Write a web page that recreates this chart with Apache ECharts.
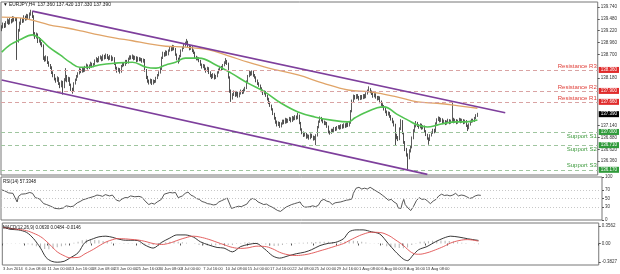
<!DOCTYPE html>
<html><head><meta charset="utf-8">
<script src="https://cdn.jsdelivr.net/npm/echarts@6/dist/echarts.min.js"></script>
<style>html,body{margin:0;padding:0;background:#fff}#c{width:620px;height:274px}</style>
</head><body><div id="c"></div>
<script>
const symbolName = 'EURJPY,H4';
const firstBarUTC = [2014, 5, 3, 16];
const timeLabelEvery = 16;
const futureSlots = 86;

// [open, close, low, high]
const candles = [
[139.25,139.30,139.21,139.34],[139.30,139.36,139.27,139.40],[139.36,139.31,139.28,139.39],[139.31,139.40,139.29,139.43],[139.40,139.44,139.37,139.49],
[139.44,139.38,139.35,139.47],[139.38,139.46,139.36,139.50],[139.46,139.41,139.38,139.48],[139.41,139.50,139.40,139.54],[139.50,139.45,139.42,139.53],
[139.45,139.48,139.43,139.52],[139.48,139.00,138.58,139.50],[139.00,139.22,138.96,139.26],[139.22,139.38,139.20,139.42],[139.38,139.47,139.35,139.50],
[139.47,139.42,139.39,139.50],[139.42,139.52,139.40,139.56],[139.52,139.47,139.44,139.55],[139.47,139.55,139.45,139.59],[139.55,139.50,139.47,139.58],
[139.50,139.58,139.48,139.62],[139.58,139.62,139.55,139.68],[139.62,139.54,139.50,139.65],[139.54,139.15,139.10,139.56],[139.15,139.08,139.04,139.19],
[139.08,139.14,139.05,139.18],[139.14,138.98,138.95,139.16],[138.98,139.04,138.96,139.08],[139.04,138.94,138.90,139.06],[138.94,138.90,138.86,138.97],
[138.90,138.62,138.58,138.92],[138.62,138.58,138.54,138.66],[138.58,138.64,138.55,138.68],[138.64,138.52,138.49,138.66],[138.52,138.46,138.43,138.55],
[138.46,138.42,138.38,138.49],[138.42,138.30,138.27,138.44],[138.30,138.24,138.20,138.33],[138.24,138.16,138.13,138.27],[138.16,138.12,138.08,138.19],
[138.12,138.18,138.10,138.22],[138.18,138.06,138.03,138.20],[138.06,138.00,137.96,138.09],[138.00,138.10,137.98,138.13],[138.10,137.98,137.82,138.12],
[137.98,138.14,137.96,138.18],[138.14,138.22,138.11,138.40],[138.22,138.12,138.09,138.25],[138.12,138.18,138.10,138.21],[138.18,138.04,138.01,138.20],
[138.04,137.94,137.90,138.06],[137.94,137.90,137.84,137.97],[137.90,138.06,137.88,138.09],[138.06,138.14,138.04,138.17],[138.14,138.22,138.12,138.25],
[138.22,138.28,138.19,138.31],[138.28,138.36,138.26,138.40],[138.36,138.32,138.29,138.39],[138.32,138.38,138.30,138.41],[138.38,138.34,138.31,138.40],
[138.34,138.42,138.32,138.45],[138.42,138.46,138.39,138.50],[138.46,138.40,138.37,138.48],[138.40,138.45,138.38,138.48],[138.45,138.50,138.43,138.54],
[138.50,138.44,138.41,138.52],[138.44,138.48,138.42,138.51],[138.48,138.56,138.46,138.59],[138.56,138.60,138.53,138.64],[138.60,138.55,138.52,138.62],
[138.55,138.62,138.53,138.66],[138.62,138.64,138.59,138.68],[138.64,138.58,138.55,138.66],[138.58,138.66,138.56,138.70],[138.66,138.62,138.59,138.69],
[138.62,138.68,138.60,138.72],[138.68,138.63,138.60,138.71],[138.63,138.60,138.57,138.66],[138.60,138.66,138.58,138.69],[138.66,138.58,138.55,138.68],
[138.58,138.62,138.56,138.65],[138.62,138.50,138.47,138.64],[138.50,138.40,138.37,138.52],[138.40,138.34,138.30,138.43],[138.34,138.38,138.32,138.41],
[138.38,138.32,138.28,138.40],[138.32,138.44,138.30,138.47],[138.44,138.50,138.42,138.53],[138.50,138.47,138.44,138.53],[138.47,138.55,138.45,138.58],
[138.55,138.52,138.49,138.58],[138.52,138.60,138.50,138.63],[138.60,138.65,138.58,138.68],[138.65,138.62,138.59,138.68],[138.62,138.66,138.60,138.70],
[138.66,138.60,138.57,138.68],[138.60,138.64,138.58,138.67],[138.64,138.56,138.53,138.66],[138.56,138.62,138.54,138.65],[138.62,138.58,138.55,138.64],
[138.58,138.60,138.55,138.63],[138.60,138.55,138.52,138.62],[138.55,138.58,138.52,138.61],[138.58,138.35,138.32,138.60],[138.35,138.20,138.16,138.38],
[138.20,138.12,138.08,138.23],[138.12,138.08,138.04,138.15],[138.08,138.14,138.06,138.17],[138.14,138.06,138.03,138.16],[138.06,138.12,138.04,138.15],
[138.12,138.10,138.07,138.14],[138.10,138.18,138.08,138.21],[138.18,138.24,138.16,138.27],[138.24,138.30,138.22,138.33],[138.30,138.38,138.28,138.41],
[138.38,138.62,138.36,138.65],[138.62,138.72,138.60,138.76],[138.72,138.68,138.65,138.75],[138.68,138.76,138.66,138.79],[138.76,138.70,138.67,138.78],
[138.70,138.78,138.68,138.81],[138.78,138.84,138.76,138.87],[138.84,138.80,138.77,138.86],[138.80,138.88,138.78,138.91],[138.88,138.82,138.79,138.90],
[138.82,138.70,138.67,138.84],[138.70,138.60,138.57,138.72],[138.60,138.56,138.50,138.63],[138.56,138.66,138.54,138.69],[138.66,138.78,138.64,138.81],
[138.78,138.84,138.76,138.87],[138.84,138.90,138.82,138.93],[138.90,138.94,138.87,138.98],[138.94,138.98,138.91,139.04],[138.98,138.88,138.85,139.00],
[138.88,138.82,138.79,138.91],[138.82,138.86,138.80,138.89],[138.86,138.78,138.75,138.88],[138.78,138.74,138.71,138.81],[138.74,138.64,138.61,138.76],
[138.64,138.60,138.57,138.67],[138.60,138.62,138.57,138.65],[138.62,138.56,138.53,138.64],[138.56,138.48,138.45,138.58],[138.48,138.42,138.39,138.50],
[138.42,138.46,138.40,138.49],[138.46,138.38,138.35,138.48],[138.38,138.34,138.30,138.41],[138.34,138.40,138.32,138.43],[138.40,138.30,138.27,138.42],
[138.30,138.24,138.20,138.33],[138.24,138.20,138.16,138.27],[138.20,138.26,138.18,138.29],[138.26,138.18,138.15,138.28],[138.18,138.22,138.16,138.25],
[138.22,138.30,138.20,138.33],[138.30,138.36,138.28,138.39],[138.36,138.42,138.34,138.45],[138.42,138.38,138.35,138.45],[138.38,138.46,138.36,138.49],
[138.46,138.52,138.44,138.55],[138.52,138.56,138.49,138.62],[138.56,138.50,138.47,138.58],[138.50,138.20,138.17,138.52],[138.20,137.90,137.86,138.22],
[137.90,137.74,137.66,137.93],[137.74,137.82,137.71,137.85],[137.82,137.88,137.79,137.91],[137.88,137.80,137.77,137.90],[137.80,137.86,137.78,137.89],
[137.86,137.78,137.75,137.88],[137.78,137.84,137.76,137.87],[137.84,137.90,137.82,137.93],[137.90,137.86,137.83,137.92],[137.86,137.92,137.84,137.95],
[137.92,137.96,137.89,137.99],[137.96,138.10,137.94,138.13],[138.10,138.22,138.08,138.25],[138.22,138.30,138.20,138.34],[138.30,138.26,138.23,138.33],
[138.26,138.32,138.24,138.35],[138.32,138.24,138.21,138.34],[138.24,138.20,138.17,138.27],[138.20,138.12,138.09,138.22],[138.12,138.06,138.03,138.15],
[138.06,138.02,137.99,138.09],[138.02,137.96,137.93,138.04],[137.96,137.90,137.87,137.98],[137.90,137.84,137.81,137.93],[137.84,137.88,137.82,137.91],
[137.88,137.80,137.77,137.90],[137.80,137.72,137.69,137.82],[137.72,137.64,137.61,137.75],[137.64,137.58,137.55,137.67],[137.58,137.50,137.47,137.60],
[137.50,137.40,137.37,137.52],[137.40,137.30,137.27,137.42],[137.30,137.22,137.18,137.33],[137.22,137.16,137.12,137.25],[137.16,137.20,137.13,137.23],
[137.20,137.12,137.09,137.22],[137.12,137.18,137.10,137.21],[137.18,137.24,137.16,137.27],[137.24,137.20,137.17,137.27],[137.20,137.28,137.18,137.31],
[137.28,137.22,137.19,137.30],[137.22,137.26,137.20,137.29],[137.26,137.30,137.24,137.33],[137.30,137.24,137.21,137.32],[137.24,137.32,137.22,137.35],
[137.32,137.28,137.25,137.34],[137.28,137.34,137.26,137.37],[137.34,137.30,137.27,137.36],[137.30,137.36,137.28,137.42],[137.36,137.20,137.17,137.38],
[137.20,137.06,137.03,137.22],[137.06,136.98,136.95,137.08],[136.98,136.92,136.89,137.01],[136.92,136.96,136.90,136.99],[136.96,136.88,136.85,136.98],
[136.88,136.92,136.86,136.95],[136.92,136.86,136.83,136.94],[136.86,136.94,136.84,136.97],[136.94,136.90,136.87,136.96],[136.90,136.84,136.81,136.92],
[136.84,136.88,136.82,136.91],[136.88,136.92,136.71,136.95],[136.92,137.10,136.90,137.13],[137.10,137.22,137.08,137.25],[137.22,137.30,137.20,137.34],
[137.30,137.26,137.23,137.33],[137.26,137.22,137.19,137.29],[137.22,137.18,137.15,137.25],[137.18,137.20,137.15,137.23],[137.20,137.12,137.09,137.22],
[137.12,137.00,136.97,137.14],[137.00,136.98,136.94,137.03],[136.98,137.04,136.96,137.07],[137.04,137.02,136.99,137.07],[137.02,137.08,137.00,137.11],
[137.08,137.05,137.02,137.11],[137.05,137.10,137.03,137.13],[137.10,137.12,137.07,137.15],[137.12,137.08,137.05,137.15],[137.08,137.14,137.06,137.17],
[137.14,137.10,137.07,137.17],[137.10,137.16,137.08,137.19],[137.16,137.12,137.09,137.19],[137.12,137.18,137.10,137.21],[137.18,137.14,137.11,137.21],
[137.14,137.20,137.12,137.23],[137.20,137.45,137.18,137.48],[137.45,137.68,137.43,137.71],[137.68,137.78,137.65,137.82],[137.78,137.74,137.71,137.81],
[137.74,137.80,137.72,137.83],[137.80,137.76,137.73,137.83],[137.76,137.72,137.69,137.79],[137.72,137.78,137.70,137.81],[137.78,137.74,137.71,137.81],
[137.74,137.80,137.72,137.83],[137.80,137.76,137.73,137.83],[137.76,137.84,137.74,137.87],[137.84,137.90,137.82,137.93],[137.90,137.94,137.87,138.00],
[137.94,137.88,137.85,137.96],[137.88,137.84,137.81,137.91],[137.84,137.78,137.75,137.87],[137.78,137.82,137.76,137.85],[137.82,137.76,137.73,137.85],
[137.76,137.72,137.69,137.79],[137.72,137.76,137.70,137.79],[137.76,137.66,137.63,137.78],[137.66,137.60,137.57,137.69],[137.60,137.56,137.53,137.63],
[137.56,137.50,137.47,137.59],[137.50,137.44,137.41,137.53],[137.44,137.38,137.35,137.47],[137.38,137.42,137.36,137.45],[137.42,137.34,137.31,137.44],
[137.34,137.28,137.25,137.37],[137.28,137.22,137.19,137.31],[137.22,137.16,137.12,137.25],[137.16,136.92,136.70,137.18],[136.92,136.88,136.84,136.96],
[136.88,136.84,136.80,136.91],[136.84,137.06,136.82,137.10],[137.06,137.24,137.04,137.28],[137.24,136.98,136.95,137.26],[136.98,136.78,136.74,137.00],
[136.78,136.62,136.58,136.80],[136.62,136.50,136.46,136.65],[136.50,136.44,136.18,136.53],[136.44,136.58,136.40,136.62],[136.58,136.66,136.55,136.70],
[136.66,136.86,136.64,136.90],[136.86,137.02,136.84,137.06],[137.02,137.12,137.00,137.16],[137.12,137.20,137.10,137.24],[137.20,137.14,137.11,137.22],
[137.14,137.10,137.07,137.17],[137.10,137.16,137.08,137.19],[137.16,137.08,137.05,137.18],[137.08,137.12,137.06,137.15],[137.12,137.02,136.99,137.14],
[137.02,136.94,136.91,137.04],[136.94,136.86,136.83,136.96],[136.86,136.82,136.72,136.88],[136.82,136.92,136.80,136.95],[136.92,136.98,136.90,137.01],
[136.98,137.04,136.96,137.07],[137.04,137.00,136.97,137.07],[137.00,137.18,136.98,137.21],[137.18,137.26,137.16,137.30],[137.26,137.30,137.24,137.34],
[137.30,137.24,137.21,137.33],[137.24,137.28,137.22,137.31],[137.28,137.20,137.17,137.30],[137.20,137.24,137.18,137.27],[137.24,137.18,137.15,137.26],
[137.18,137.22,137.16,137.25],[137.22,137.26,137.20,137.29],[137.26,137.20,137.17,137.28],[137.20,137.24,137.18,137.27],[137.24,137.28,137.21,137.66],
[137.28,137.22,137.19,137.31],[137.22,137.26,137.20,137.29],[137.26,137.20,137.17,137.28],[137.20,137.24,137.18,137.27],[137.24,137.28,137.22,137.31],
[137.28,137.22,137.19,137.30],[137.22,137.26,137.20,137.29],[137.26,137.20,137.17,137.28],[137.20,137.24,137.18,137.27],[137.24,137.14,137.11,137.26],
[137.14,137.08,137.02,137.16],[137.08,137.16,137.06,137.19],[137.16,137.22,137.14,137.25],[137.22,137.26,137.20,137.29],[137.26,137.24,137.21,137.29],
[137.24,137.30,137.22,137.33],[137.30,137.36,137.28,137.39],[137.36,137.39,137.33,137.42]
];

// moving averages, sampled [barIndex, price]
const greenMA = [[0,138.75],[6,138.91],[13,139.02],[22,139.13],[27,139.06],[34,138.86],[42,138.69],[49,138.53],[56,138.42],[63,138.42],[70,138.47],[82,138.51],[94,138.53],[104,138.42],[111,138.40],[118,138.47],[125,138.53],[132,138.62],[142,138.62],[154,138.47],[165,138.29],[177,138.07],[189,137.88],[201,137.63],[213,137.44],[225,137.33],[237,137.26],[249,137.22],[254,137.31],[261,137.42],[270,137.53],[275,137.55],[284,137.39],[292,137.26],[299,137.15],[306,137.11],[313,137.15],[320,137.20],[327,137.22],[334,137.22],[342,137.26]];
const orangeMA = [[0,139.52],[13,139.50],[22,139.45],[34,139.35],[47,139.28],[58,139.21],[70,139.13],[82,139.06],[94,139.00],[106,138.93],[118,138.88],[132,138.86],[149,138.80],[163,138.67],[177,138.53],[192,138.40],[213,138.25],[231,138.07],[249,137.92],[265,137.88],[284,137.77],[299,137.66],[313,137.63],[325,137.59],[342,137.52]];

// channel trendlines [barIndex, price]
const channelUpper = [[22,139.65],[362,137.42]];
const channelLower = [[0,138.14],[306,136.07]];

const resistanceLevels = [137.66, 137.90, 138.36];
const resistanceNames = ['Resistance R1','Resistance R2','Resistance R3'];
const supportLevels = [137.00, 136.71, 136.17];
const supportNames = ['Support S1','Support S2','Support S3'];

const priceTicks = [139.74, 139.48, 139.22, 138.96, 138.70, 138.18, 137.14, 136.88, 136.62, 136.36];
const priceMin = 136.056, priceMax = 139.85;

const rsi = [[0,70],[2,68],[5,63],[8,62],[11,42],[12,55],[14,60],[17,61],[20,64],[22,62],[24,52],[27,49],[30,38],[32,36],[35,32],[38,27],[41,26],[44,28],[46,33],[49,31],[51,32],[54,40],[56,43],[58,47],[60,49],[63,52],[66,55],[68,58],[70,57],[72,55],[74,59],[77,56],[79,58],[82,46],[84,44],[86,49],[88,52],[90,52],[92,56],[95,54],[98,55],[100,53],[103,42],[105,36],[107,39],[109,37],[111,42],[114,48],[116,60],[118,62],[120,64],[122,63],[124,64],[126,52],[127,48],[129,56],[131,62],[133,65],[135,58],[137,55],[139,50],[141,48],[143,43],[145,41],[147,38],[149,37],[151,35],[153,36],[155,42],[157,45],[159,48],[161,51],[162,49],[163,35],[164,27],[165,24],[167,30],[169,32],[171,31],[173,34],[175,37],[177,46],[179,50],[181,48],[183,42],[185,39],[187,36],[189,37],[191,33],[193,30],[195,26],[197,22],[199,20],[201,25],[203,30],[205,33],[207,36],[209,38],[211,40],[213,42],[214,36],[216,30],[218,30],[220,31],[222,33],[224,31],[226,34],[228,45],[230,48],[232,44],[234,42],[236,36],[238,40],[240,41],[242,42],[244,44],[246,46],[248,47],[250,49],[251,62],[253,74],[255,76],[257,72],[259,74],[261,72],[263,76],[264,78],[266,70],[268,66],[270,62],[272,57],[274,52],[276,46],[278,48],[280,42],[282,38],[283,28],[285,27],[286,40],[287,48],[288,36],[290,28],[292,22],[294,32],[296,45],[298,52],[300,48],[302,49],[304,44],[306,38],[308,44],[310,48],[312,56],[314,60],[316,57],[318,58],[320,56],[322,58],[324,62],[326,56],[328,58],[330,57],[332,54],[334,50],[336,52],[338,56],[340,58],[342,57.3348]];
const rsiTicks = [100, 70, 50, 30, 0];
const rsiLevels = [70, 50, 30];

const macdMain = [[0,0.343],[5,0.292],[11,0.279],[17,0.227],[22,0.099],[27,-0.094],[31,-0.287],[35,-0.364],[39,-0.383],[44,-0.364],[48,-0.299],[54,-0.190],[59,0.022],[65,0.099],[69,0.137],[74,0.150],[79,0.125],[82,0.099],[88,0.067],[92,0.067],[97,0.060],[102,-0.030],[108,-0.094],[114,0.022],[120,0.112],[125,0.176],[131,0.176],[137,0.131],[142,0.035],[148,-0.030],[154,-0.081],[159,-0.094],[165,-0.171],[171,-0.062],[177,-0.017],[182,0.003],[188,-0.107],[194,-0.254],[199,-0.299],[205,-0.254],[211,-0.209],[217,-0.177],[222,-0.126],[228,-0.042],[234,0.003],[239,0.022],[245,0.099],[249,0.240],[254,0.279],[259,0.279],[265,0.240],[271,0.195],[277,0.003],[282,-0.158],[288,-0.319],[291,-0.351],[295,-0.235],[299,-0.126],[305,-0.062],[311,0.035],[317,0.112],[322,0.150],[328,0.131],[334,0.099],[342,0.0630]];
const macdSignal = [[0,0.330],[5,0.310],[11,0.290],[17,0.262],[22,0.210],[27,0.140],[31,0.050],[35,-0.060],[39,-0.170],[44,-0.250],[48,-0.290],[54,-0.285],[59,-0.210],[65,-0.120],[69,-0.050],[74,0.030],[79,0.080],[82,0.100],[88,0.095],[92,0.085],[97,0.072],[102,0.045],[108,0.000],[114,-0.020],[120,0.010],[125,0.060],[131,0.115],[137,0.150],[142,0.130],[148,0.085],[154,0.025],[159,-0.025],[165,-0.080],[171,-0.100],[177,-0.085],[182,-0.055],[188,-0.060],[194,-0.110],[199,-0.180],[205,-0.230],[211,-0.245],[217,-0.230],[222,-0.200],[228,-0.150],[234,-0.100],[239,-0.055],[245,0.000],[249,0.060],[254,0.130],[259,0.190],[265,0.230],[271,0.225],[277,0.170],[282,0.080],[288,-0.040],[291,-0.120],[295,-0.200],[299,-0.220],[305,-0.190],[311,-0.130],[317,-0.060],[322,0.010],[328,0.060],[334,0.080],[342,0.0484]];
const macdHist = [[0,0.005],[3,-0.003],[6,-0.006],[9,-0.004],[12,-0.005],[15,-0.010],[18,-0.015],[21,-0.035],[24,-0.055],[27,-0.080],[30,-0.110],[33,-0.115],[36,-0.100],[39,-0.075],[42,-0.055],[45,-0.035],[48,-0.005],[51,0.015],[54,0.035],[57,0.065],[60,0.080],[63,0.078],[66,0.074],[69,0.065],[72,0.052],[75,0.038],[78,0.020],[81,0.004],[84,-0.005],[87,-0.010],[90,-0.008],[93,-0.006],[96,-0.004],[99,-0.015],[102,-0.026],[105,-0.030],[108,-0.033],[111,-0.010],[114,0.015],[117,0.028],[120,0.036],[123,0.040],[126,0.038],[129,0.028],[132,0.018],[135,0.002],[138,-0.010],[141,-0.030],[144,-0.036],[147,-0.040],[150,-0.039],[153,-0.037],[156,-0.030],[159,-0.024],[162,-0.028],[165,-0.032],[168,-0.010],[171,0.013],[174,0.020],[177,0.024],[180,0.022],[183,0.015],[186,-0.005],[189,-0.020],[192,-0.040],[195,-0.050],[198,-0.045],[201,-0.030],[204,-0.012],[207,0.004],[210,0.012],[213,0.016],[216,0.018],[219,0.022],[222,0.026],[225,0.032],[228,0.038],[231,0.037],[234,0.036],[237,0.030],[240,0.027],[243,0.031],[246,0.040],[249,0.063],[252,0.058],[255,0.050],[258,0.035],[261,0.020],[264,0.006],[267,-0.005],[270,-0.010],[273,-0.030],[276,-0.055],[279,-0.070],[282,-0.083],[285,-0.090],[288,-0.098],[291,-0.081],[294,-0.030],[297,0.010],[300,0.035],[303,0.040],[306,0.046],[309,0.054],[312,0.058],[315,0.060],[318,0.058],[321,0.050],[324,0.040],[327,0.027],[330,0.016],[333,0.008],[336,0.002],[339,-0.003],[342,-0.0146]];
const macdTicks = [0.3562, 0, -0.3827];
const macdMin = -0.44, macdMax = 0.42;

// ---------- build ----------
const MONTHS = ['Jan','Feb','Mar','Apr','May','Jun','Jul','Aug','Sep','Oct','Nov','Dec'];
const pad = n => (n < 10 ? '0' : '') + n;
const totalSlots = candles.length + futureSlots;
const categories = [];
let t = Date.UTC(firstBarUTC[0], firstBarUTC[1], firstBarUTC[2], firstBarUTC[3]);
while (categories.length < totalSlots) {
  const d = new Date(t);
  const wd = d.getUTCDay();
  if (wd !== 0 && wd !== 6) {
    categories.push(categories.length === 0
      ? d.getUTCDate() + ' ' + MONTHS[d.getUTCMonth()] + ' ' + d.getUTCFullYear()
      : d.getUTCDate() + ' ' + MONTHS[d.getUTCMonth()] + ' ' + pad(d.getUTCHours()) + ':00');
  }
  t += 4 * 3600 * 1000;
}
const lastLabelIdx = candles.length - 13;
const showTime = i => i === 0 || (i % timeLabelEvery === 0 && i <= lastLabelIdx);

const last = candles[candles.length - 1];
const FONT = 'Liberation Sans';
const titleText = '\u25BC ' + symbolName + '  ' + last[0].toFixed(3) + ' ' + last[3].toFixed(3) + ' ' + last[2].toFixed(3) + ' ' + last[1].toFixed(3);
const rsiText = 'RSI(14) ' + rsi[rsi.length - 1][1].toFixed(4);
const macdText = 'MACD(12,26,9) ' + macdMain[macdMain.length-1][1].toFixed(4) + ' ' + macdSignal[macdSignal.length-1][1].toFixed(4) + ' ' + macdHist[macdHist.length-1][1].toFixed(4);

const gridBase = { left: 1, right: 18, show: true, borderColor: '#777', borderWidth: 1, backgroundColor: '#fff' };
const xHidden = gi => ({ type: 'category', gridIndex: gi, data: categories, boundaryGap: true,
  axisLine: { show: false }, axisTick: { show: false }, axisLabel: { show: false }, splitLine: { show: false } });
const yRight = (gi, min, max, ticks, fmt) => ({ type: 'value', gridIndex: gi, position: 'right', min, max, scale: true,
  axisLine: { show: false }, splitLine: { show: false },
  axisTick: { show: true, customValues: ticks, length: 2, lineStyle: { color: '#555' } },
  axisLabel: { customValues: ticks, formatter: fmt, fontSize: 4.5, color: '#333', margin: 3, fontFamily: FONT } });

const levelLabelLines = [];
resistanceLevels.forEach((v, i) => levelLabelLines.push({ yAxis: v,
  lineStyle: { color: '#d9a3a3', type: [4, 3], width: 1 },
  label: { show: true, formatter: resistanceNames[i], position: 'insideEndTop', distance: 1, color: '#e0403a', fontSize: 6, fontFamily: FONT } }));
supportLevels.forEach((v, i) => levelLabelLines.push({ yAxis: v,
  lineStyle: { color: '#9fc59f', type: [4, 3], width: 1 },
  label: { show: true, formatter: supportNames[i], position: i === 2 ? 'insideEndTop' : 'insideEndBottom', distance: 1, color: '#3d9a3d', fontSize: 6, fontFamily: FONT } }));

const tag = (v, bg) => ({ yAxis: v, lineStyle: { color: 'rgba(0,0,0,0)', width: 0 },
  label: { show: true, position: 'end', distance: 1, formatter: v.toFixed(3), color: '#fff', backgroundColor: bg,
    fontSize: 4.5, padding: [1, 2, 0, 2], fontFamily: FONT } });
const tagLines = resistanceLevels.map(v => tag(v, '#e02a2a')).concat(supportLevels.map(v => tag(v, '#2f9a3a')));

const option = {
  animation: false,
  backgroundColor: '#fff',
  title: [
    { text: titleText, left: 3, top: 2, padding: 0, textStyle: { fontSize: 4.8, fontWeight: 'normal', color: '#111', fontFamily: FONT } },
    { text: rsiText, left: 3, top: 179, padding: 0, textStyle: { fontSize: 4.5, fontWeight: 'normal', color: '#111', fontFamily: FONT } },
    { text: macdText, left: 3, top: 225, padding: 0, textStyle: { fontSize: 4.5, fontWeight: 'normal', color: '#111', fontFamily: FONT } }
  ],
  grid: [
    Object.assign({ top: 2, height: 173 }, gridBase),
    Object.assign({ top: 177, height: 43 }, gridBase),
    Object.assign({ top: 223, height: 42 }, gridBase)
  ],
  xAxis: [
    xHidden(0), xHidden(1),
    { type: 'category', gridIndex: 2, data: categories, boundaryGap: true,
      axisLine: { show: false }, splitLine: { show: false },
      axisTick: { show: true, interval: (i) => showTime(i), length: 2, lineStyle: { color: '#555' } },
      axisLabel: { show: true, interval: (i) => showTime(i), showMinLabel: true, align: 'left', fontSize: 4, color: '#333', margin: 2, fontFamily: FONT } }
  ],
  yAxis: [
    yRight(0, priceMin, priceMax, priceTicks, v => v.toFixed(3)),
    yRight(1, 0, 100, rsiTicks, v => String(v)),
    yRight(2, macdMin, macdMax, macdTicks, v => (v === 0 ? '0.00' : v.toFixed(4)))
  ],
  series: [
    { type: 'candlestick', xAxisIndex: 0, yAxisIndex: 0, data: candles, barWidth: 1,
      itemStyle: { color: '#333', color0: '#222', borderColor: '#333', borderColor0: '#222', borderWidth: 0.8 },
      markLine: { symbol: 'none', silent: true, animation: false, data: levelLabelLines }, z: 3 },
    { type: 'line', xAxisIndex: 0, yAxisIndex: 0, data: greenMA, smooth: 0.4, showSymbol: false, symbol: 'none',
      lineStyle: { color: '#52c452', width: 1.6 }, z: 4,
      markLine: { symbol: 'none', silent: true, animation: false, data: tagLines } },
    { type: 'line', xAxisIndex: 0, yAxisIndex: 0, data: orangeMA, smooth: 0.4, showSymbol: false, symbol: 'none',
      lineStyle: { color: '#e0a468', width: 1.3 }, z: 4,
      markLine: { symbol: 'none', silent: true, animation: false, data: [tag(last[1], '#000')] } },
    { type: 'line', xAxisIndex: 0, yAxisIndex: 0, data: channelUpper, showSymbol: false, symbol: 'none',
      lineStyle: { color: '#7e3f9c', width: 1.6 }, z: 5 },
    { type: 'line', xAxisIndex: 0, yAxisIndex: 0, data: channelLower, showSymbol: false, symbol: 'none', clip: true,
      lineStyle: { color: '#7e3f9c', width: 1.6 }, z: 5 },
    { type: 'line', xAxisIndex: 1, yAxisIndex: 1, data: rsi, showSymbol: false, symbol: 'none',
      lineStyle: { color: '#444', width: 0.9 },
      markLine: { symbol: 'none', silent: true, animation: false, label: { show: false },
        data: rsiLevels.map(v => ({ yAxis: v, lineStyle: { color: '#c8c8c8', type: [1, 2], width: 1 } })) } },
    { type: 'bar', xAxisIndex: 2, yAxisIndex: 2, data: macdHist, barWidth: 1, itemStyle: { color: '#b4b4b4' } },
    { type: 'line', xAxisIndex: 2, yAxisIndex: 2, data: macdMain, smooth: 0.3, showSymbol: false, symbol: 'none',
      lineStyle: { color: '#222', width: 0.9 } },
    { type: 'line', xAxisIndex: 2, yAxisIndex: 2, data: macdSignal, smooth: 0.4, showSymbol: false, symbol: 'none',
      lineStyle: { color: '#e05050', width: 0.9 } }
  ]
};
const chart = echarts.init(document.getElementById('c'), null, { renderer: 'canvas' });
chart.setOption(option);
</script>
</body></html>
